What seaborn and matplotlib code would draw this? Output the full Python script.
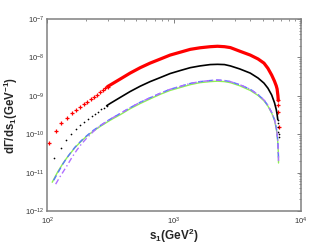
import matplotlib
matplotlib.use("Agg")
import matplotlib.pyplot as plt
import seaborn as sns
import pandas as pd
from matplotlib.ticker import LogLocator, LogFormatterSciNotation

# red '+' points: sparse low-s part, dense part, steep tail
red_s = [103, 116, 129, 142, 155, 168, 181, 194, 207, 220, 233, 246, 259, 272, 285, 298,
         312, 380, 449, 540, 646, 780, 930, 1130, 1340, 1600, 1925, 2200,
         2500, 2780, 3300, 3990, 4600, 5120, 5500, 5890, 6200, 6400, 6500, 6600, 6640,
         6655, 6665, 6676]
red_v = [6.0e-11, 1.23e-10, 1.9e-10, 2.7e-10, 3.47e-10, 4.27e-10, 5.0e-10, 6.0e-10, 7.1e-10, 8.3e-10, 9.5e-10,
         1.07e-9, 1.23e-9, 1.38e-9, 1.55e-9, 1.74e-9,
         1.9e-9, 2.8e-9, 3.9e-9, 5.4e-9, 7.1e-9, 9.1e-9, 1.15e-8, 1.38e-8, 1.62e-8, 1.78e-8, 1.9e-8, 1.95e-8,
         1.9e-8, 1.8e-8, 1.45e-8, 1.15e-8, 9.1e-9, 7.1e-9, 5.2e-9, 3.47e-9, 2.4e-9, 1.82e-9, 1.51e-9, 1.0e-9, 7.6e-10,
         5.75e-10, 3.9e-10, 1.58e-10]

black_s = [113, 127, 139, 153, 167, 181, 195, 209, 223, 237, 251, 265, 279, 293,
           312, 380, 449, 540, 646, 780, 930, 1130, 1340, 1600, 1925, 2200,
           2500, 2780, 3300, 3990, 4600, 5120, 5500, 5890, 6200, 6400, 6500, 6580,
           6620, 6645, 6660, 6670, 6676]
black_v = [2.34e-11, 4.5e-11, 6.9e-11, 1.0e-10, 1.35e-10, 1.7e-10, 2.04e-10, 2.45e-10, 2.9e-10, 3.3e-10,
           3.8e-10, 4.4e-10, 4.9e-10, 5.5e-10,
           6.3e-10, 9.3e-10, 1.29e-9, 1.78e-9, 2.34e-9, 3.0e-9, 3.8e-9, 4.6e-9, 5.4e-9, 6.0e-9, 6.5e-9, 6.6e-9,
           6.5e-9, 6.0e-9, 5.0e-9, 3.9e-9, 2.9e-9, 2.14e-9, 1.58e-9, 1.05e-9, 6.6e-10, 4.4e-10, 3.3e-10, 2.4e-10,
           1.9e-10, 1.5e-10, 1.17e-10, 1.0e-10, 8.5e-11]

green_s = [109, 116, 122, 132, 142, 155, 165, 185, 204, 230, 260, 312, 380, 449, 540, 646, 780, 930,
           1130, 1340, 1600, 1925, 2200, 2500, 2780, 3300, 3990, 4600, 5120, 5500, 5890, 6200,
           6400, 6500, 6580, 6630, 6660, 6672]
green_v = [5.6e-12, 8.3e-12, 1.12e-11, 1.7e-11, 2.4e-11, 3.47e-11, 4.5e-11, 6.6e-11, 8.9e-11, 1.2e-10,
           1.58e-10, 2.3e-10, 3.3e-10, 4.6e-10, 6.3e-10, 8.3e-10, 1.1e-9, 1.38e-9, 1.66e-9, 1.95e-9, 2.2e-9,
           2.34e-9, 2.4e-9, 2.34e-9, 2.2e-9, 1.82e-9, 1.38e-9, 1.02e-9, 7.4e-10, 5.4e-10, 3.55e-10, 2.3e-10,
           1.41e-10, 1.0e-10, 6.3e-11, 4.0e-11, 2.5e-11, 1.78e-11]

blue_s = [112, 120, 132, 142, 155, 165, 185, 204, 230, 260, 312, 380, 449, 540, 646, 780, 930,
          1130, 1340, 1600, 1925, 2200, 2500, 2780, 3300, 3990, 4600, 5120, 5500, 5890, 6200,
          6400, 6500, 6580, 6630, 6660, 6670]
blue_v = [6.3e-12, 9.5e-12, 1.66e-11, 2.4e-11, 3.55e-11, 4.6e-11, 6.8e-11, 9.1e-11, 1.26e-10,
          1.66e-10, 2.45e-10, 3.55e-10, 4.9e-10, 6.8e-10, 8.9e-10, 1.17e-9, 1.48e-9, 1.78e-9, 2.1e-9, 2.34e-9,
          2.5e-9, 2.57e-9, 2.5e-9, 2.34e-9, 1.95e-9, 1.48e-9, 1.07e-9, 7.8e-10, 5.6e-10, 3.7e-10, 2.4e-10,
          1.48e-10, 1.05e-10, 6.6e-11, 4.2e-11, 2.8e-11, 2.24e-11]

purple_s = [116, 125, 133, 142, 155, 170, 185, 204, 230, 260, 312, 380, 449, 540, 646, 780, 930,
            1130, 1340, 1600, 1925, 2200, 2500, 2780, 3300, 3990, 4600, 5120, 5500, 5890, 6200,
            6400, 6500, 6580, 6630, 6660, 6668]
purple_v = [5.0e-12, 7.6e-12, 1.05e-11, 1.48e-11, 2.4e-11, 3.8e-11, 5.5e-11, 7.9e-11, 1.17e-10,
            1.66e-10, 2.45e-10, 3.55e-10, 4.9e-10, 6.8e-10, 8.9e-10, 1.17e-9, 1.48e-9, 1.78e-9, 2.1e-9, 2.34e-9,
            2.5e-9, 2.57e-9, 2.5e-9, 2.34e-9, 1.95e-9, 1.48e-9, 1.07e-9, 7.8e-10, 5.6e-10, 3.7e-10, 2.4e-10,
            1.48e-10, 1.05e-10, 6.6e-11, 4.2e-11, 2.5e-11, 2.0e-11]

sns.set_theme(style="white")
plt.rcParams["font.family"] = ["Liberation Sans", "DejaVu Sans"]
plt.rcParams["mathtext.fontset"] = "custom"
plt.rcParams["mathtext.rm"] = "Liberation Sans"
plt.rcParams["mathtext.it"] = "Liberation Sans:italic"
plt.rcParams["mathtext.bf"] = "Liberation Sans:bold"

red = pd.DataFrame({"s": red_s, "v": red_v})
black = pd.DataFrame({"s": black_s, "v": black_v})

fig = plt.figure(figsize=(3.32, 2.5), dpi=100)
ax = fig.add_axes([0.143, 0.156, 0.763, 0.768])

sns.lineplot(x=green_s, y=green_v, color="#8fef55", lw=1.0, ax=ax)
sns.lineplot(x=blue_s, y=blue_v, color="#5a78ff", lw=1.0, ax=ax, linestyle=(0, (4, 2.5)))
sns.lineplot(x=purple_s, y=purple_v, color="#b070ff", lw=1.0, ax=ax, linestyle=(0, (4, 2, 1, 2)))

# dense middle as a thick line, isolated points as markers
sns.lineplot(data=red.iloc[15:41], x="s", y="v", color="red", lw=2.3, ax=ax)
red_pts = pd.concat([red.iloc[:16], red.iloc[40:]])
sns.scatterplot(data=red_pts, x="s", y="v", color="red", marker="+", s=9, linewidth=0.9, ax=ax)

sns.lineplot(data=black.iloc[13:38], x="s", y="v", color="black", lw=1.2, ax=ax)
black_pts = pd.concat([black.iloc[:14], black.iloc[37:]])
sns.scatterplot(data=black_pts, x="s", y="v", color="black", marker="o", s=1.5, linewidth=0, ax=ax)

ax.set(xscale="log", yscale="log", xlim=(100, 10000), ylim=(1e-12, 1e-7))
ax.xaxis.set_major_locator(LogLocator(base=10, numticks=10))
ax.xaxis.set_minor_locator(LogLocator(base=10, subs=range(2, 10), numticks=20))
ax.yaxis.set_major_locator(LogLocator(base=10, numticks=10))
ax.yaxis.set_minor_locator(LogLocator(base=10, subs=range(2, 10), numticks=20))
ax.xaxis.set_major_formatter(LogFormatterSciNotation())
ax.yaxis.set_major_formatter(LogFormatterSciNotation())

for sp in ax.spines.values():
    sp.set_color("#808080")
    sp.set_linewidth(1.1)
ax.tick_params(which="both", direction="in", top=True, right=True, color="#808080",
               labelsize=5.5, labelcolor="#333333", pad=2)
ax.tick_params(axis="x", which="both", pad=3.5)
ax.tick_params(which="major", length=3, width=0.7)
ax.tick_params(which="minor", length=1.6, width=0.6)

ax.set_xlabel(r"$\mathbf{s_1(GeV^2)}$", fontsize=8.5, labelpad=0)
ax.set_ylabel(r"$\mathbf{d\Gamma/ds_1(GeV^{-1})}$", fontsize=8.3)
ax.yaxis.set_label_coords(-0.11, 0.5)

fig.savefig("out.png", dpi=100)
